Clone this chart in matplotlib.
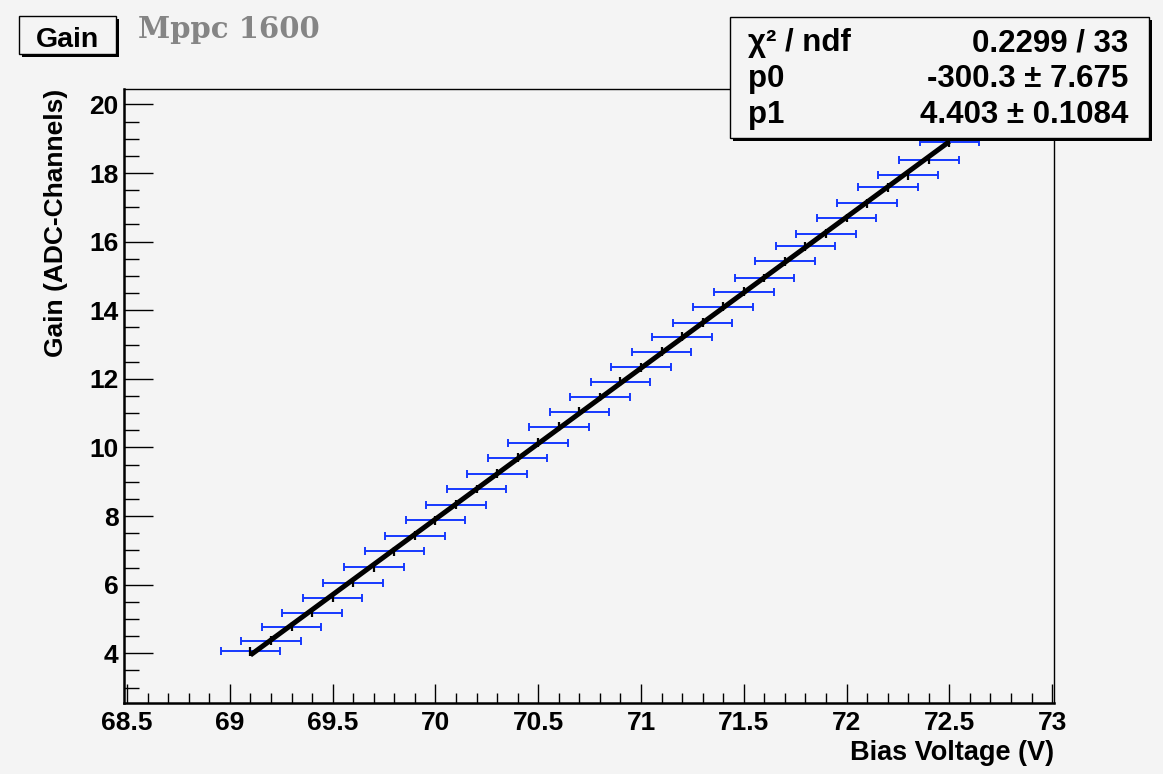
import matplotlib
matplotlib.use("Agg")
import matplotlib.pyplot as plt
from matplotlib.patches import Rectangle
from matplotlib.ticker import MultipleLocator, FormatStrFormatter
import numpy as np

# ── Data ───────────────────────────────────────────────────────────────
bias_voltage = [69.1, 69.2, 69.3, 69.4, 69.5, 69.6, 69.7, 69.8, 69.9, 70.0,
                70.1, 70.2, 70.3, 70.4, 70.5, 70.6, 70.7, 70.8, 70.9, 71.0,
                71.1, 71.2, 71.3, 71.4, 71.5, 71.6, 71.7, 71.8, 71.9, 72.0,
                72.1, 72.2, 72.3, 72.4, 72.5]
gain = [4.06, 4.37, 4.77, 5.18, 5.62, 6.06, 6.51, 6.98, 7.43, 7.88,
        8.33, 8.79, 9.24, 9.70, 10.14, 10.60, 11.04, 11.47, 11.92, 12.34,
        12.79, 13.23, 13.64, 14.10, 14.54, 14.94, 15.43, 15.87, 16.23, 16.69,
        17.12, 17.59, 17.94, 18.38, 18.90]
volt_err = 0.145
gain_err = 0.13

p0, p0_err = -300.3, 7.675
p1, p1_err = 4.403, 0.1084
chi2, ndf = 0.2299, 33

# ── Style ─────────────────────────────────────────────────────────────
BG = "#f4f4f4"
BLUE = "#1538ff"
W, H = 1163, 774
plt.rcParams["font.family"] = ["Liberation Sans", "DejaVu Sans"]
plt.rcParams["font.weight"] = "bold"
plt.rcParams["axes.labelweight"] = "bold"


def fx(x): return x / W
def fy(y): return 1 - y / H


fig = plt.figure(figsize=(W / 100, H / 100), dpi=100, facecolor=BG)
ax = fig.add_axes([fx(124), fy(702.5), fx(1054) - fx(124), fy(89) - fy(702.5)])
ax.set_facecolor(BG)

x = np.array(bias_voltage)
y = np.array(gain)
ax.errorbar(x, y, xerr=volt_err, fmt="none", ecolor=BLUE, elinewidth=1.4,
            capsize=2.6, capthick=1.4, zorder=3)
ax.errorbar(x, y, yerr=gain_err, fmt="none", ecolor="black", elinewidth=1.6,
            capsize=0, zorder=4)
xf = np.array([x.min(), x.max()])
ax.plot(xf, p0 + p1 * xf, color="black", lw=3.6, zorder=5,
        solid_capstyle="butt")

ax.set_xlim(68.485, 73.009)
ax.set_ylim(2.565, 20.45)
ax.xaxis.set_major_locator(MultipleLocator(0.5))
ax.xaxis.set_minor_locator(MultipleLocator(0.1))
ax.xaxis.set_major_formatter(FormatStrFormatter("%g"))
ax.yaxis.set_major_locator(MultipleLocator(2))
ax.yaxis.set_minor_locator(MultipleLocator(0.5))
ax.tick_params(axis="x", which="major", direction="in", length=13.5, width=1.0,
               labelsize=19, pad=6)
ax.tick_params(axis="x", which="minor", direction="in", length=7, width=1.0)
ax.tick_params(axis="y", which="major", direction="in", length=21, width=1.0,
               labelsize=19, pad=4)
ax.tick_params(axis="y", which="minor", direction="in", length=10.5, width=1.0)
for side in ("bottom", "left"):
    ax.spines[side].set_linewidth(1.8)
for side in ("top", "right"):
    ax.spines[side].set_linewidth(1.0)

ax.set_xlabel("Bias Voltage (V)", loc="right", fontsize=19.5, labelpad=4)
ax.set_ylabel("Gain (ADC-Channels)", loc="top", fontsize=19, labelpad=15)

# ── Title box "Gain" and title text ───────────────────────────────────
def shadow_box(x0, y0, x1, y1, off=3):
    fig.patches.append(Rectangle((fx(x0 + off), fy(y1 + off)), fx(x1 - x0), fy(y0) - fy(y1),
                                 transform=fig.transFigure, facecolor="black",
                                 edgecolor="none", zorder=10))
    fig.patches.append(Rectangle((fx(x0), fy(y1)), fx(x1 - x0), fy(y0) - fy(y1),
                                 transform=fig.transFigure, facecolor=BG,
                                 edgecolor="black", lw=1.0, zorder=11))

shadow_box(19, 16, 116, 54)
fig.text(fx(67.5), fy(40), "Gain", ha="center", va="center", fontsize=20.5, zorder=12)
fig.text(fx(138), fy(30), "Mppc 1600", ha="left", va="center", fontsize=21,
         family="DejaVu Serif", fontweight="bold", color="#858585", zorder=12)

# ── Stats box ─────────────────────────────────────────────────────────
shadow_box(730, 17, 1149, 138)
rows = [("χ² / ndf", f"{chi2:.4g} / {ndf}"),
        ("p0", f"{p0:.1f} ± {p0_err:.3f}"),
        ("p1", f"{p1:.3f} ± {p1_err:.4f}")]
for i, (lab, val) in enumerate(rows):
    yy = fy(43 + 36 * i)
    fig.text(fx(748), yy, lab, ha="left", va="center", fontsize=22.5, zorder=12)
    fig.text(fx(1128), yy, val, ha="right", va="center", fontsize=22.5, zorder=12)

fig.savefig("out.png", dpi=100, facecolor=BG)
